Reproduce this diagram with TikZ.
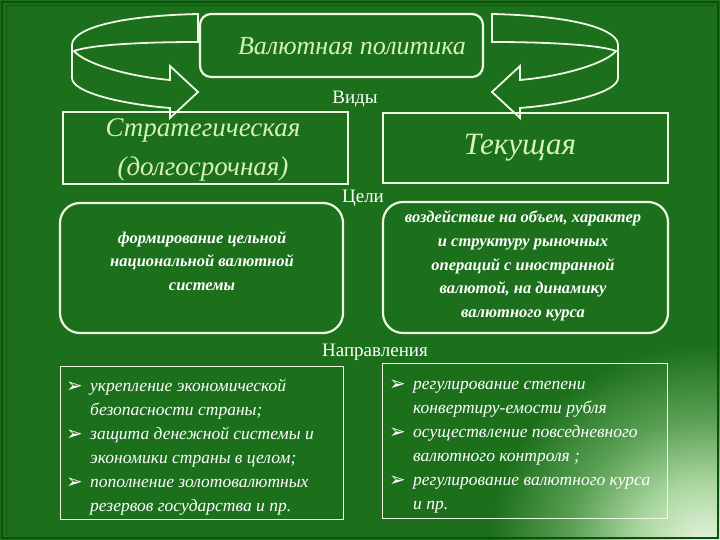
\documentclass[tikz,border=0pt]{standalone}
\usepackage{fontspec}
\setmainfont{Liberation Serif}
\newfontfamily\dejavu{DejaVu Sans}
\definecolor{bg}{RGB}{28,112,28}
\definecolor{bgdark}{RGB}{14,80,14}
\definecolor{glowA}{RGB}{232,244,224}
\definecolor{glowB}{RGB}{168,214,158}
\definecolor{glowC}{RGB}{88,158,82}
\definecolor{titlegreen}{RGB}{214,244,176}
\definecolor{linecol}{RGB}{238,248,226}
\pgfdeclareradialshading{glowshade}{\pgfpoint{0bp}{0bp}}{color(0bp)=(glowA); color(8bp)=(glowB); color(16bp)=(glowC); color(25bp)=(bg); color(50bp)=(bg)}
\tikzset{
  boxline/.style={draw=linecol, line width=2.2pt},
  thinline/.style={draw=linecol, line width=1pt},
  ribbon/.style={draw=linecol, line width=1.8pt, line join=miter},
  titletext/.style={font=\itshape\fontsize{26}{30}\selectfont, text=titlegreen, align=center},
  typetext/.style={font=\itshape\fontsize{27}{39}\selectfont, text=titlegreen, align=center},
  lbl/.style={font=\fontsize{19}{21}\selectfont, text=white, inner sep=0pt},
  goaltext/.style={font=\bfseries\itshape\fontsize{16.5}{23.8}\selectfont, text=white, align=center},
  listtext/.style={font=\itshape\fontsize{17.5}{24}\selectfont, text=white, inner sep=0pt, anchor=north west},
}
\newcommand{\blt}{\raisebox{-1pt}{\dejavu\fontsize{20}{20}\selectfont ➢}}
\begin{document}
\begin{tikzpicture}[x=1pt,y=-1pt]
\useasboundingbox (0,0) rectangle (720,540);
% background
\fill[bg] (0,0) rectangle (720,540);
\begin{scope}
\clip (0,0) rectangle (720,540);
\shade[shading=glowshade] (705,545) ellipse [x radius=215, y radius=200];
\end{scope}
\draw[bgdark, line width=1.2pt] (2,2) rectangle (718,538);
\draw[bgdark!70!bg, line width=1pt] (6,6) -- (6,534);
\draw[bgdark!70!bg, line width=1pt] (6,6) -- (714,6);
% ribbon arrows
\draw[ribbon] (198,14) .. controls (112,16) and (72,30) .. (72,45) -- (72,78)
  .. controls (72,92) and (120,104) .. (170,108) -- (170,118) -- (198,92) -- (170,66) -- (170,80)
  .. controls (125,76) and (84,63) .. (74,51)
  .. controls (90,45) and (140,42) .. (198,42) -- cycle;
\begin{scope}[xshift=690pt, xscale=-1]
\draw[ribbon] (198,14) .. controls (112,16) and (72,30) .. (72,45) -- (72,78)
  .. controls (72,92) and (120,104) .. (170,108) -- (170,118) -- (198,92) -- (170,66) -- (170,80)
  .. controls (125,76) and (84,63) .. (74,51)
  .. controls (90,45) and (140,42) .. (198,42) -- cycle;
\end{scope}
% top box
\node[boxline, rounded corners=11pt, minimum width=283pt, minimum height=63pt] (policy) at (341.5,45.5) {};
\node[titletext] (policyT) at (352,46) {Валютная политика};
\node[lbl] (vidy) at (355,99) {Виды};
% types
\node[boxline, minimum width=285pt, minimum height=72pt] (strat) at (205.5,148) {};
\node[typetext] (stratT) at (203,150) {Стратегическая\\(долгосрочная)};
\node[boxline, minimum width=285pt, minimum height=70pt] (cur) at (525.5,148) {};
\node[typetext, font=\itshape\fontsize{31}{39}\selectfont] (curT) at (520,148) {Текущая};
% goals
\node[lbl] (celi) at (363,198) {Цели};
\node[boxline, rounded corners=20pt, minimum width=283pt, minimum height=130pt] (goalL) at (201.5,268) {};
\node[goaltext] (goalLT) at (202,261) {формирование цельной\\национальной валютной\\системы};
\node[boxline, rounded corners=20pt, minimum width=285pt, minimum height=131pt] (goalR) at (525.5,267.5) {};
\node[goaltext] (goalRT) at (523,266) {воздействие на объем, характер\\и структуру рыночных\\операций с иностранной\\валютой, на динамику\\валютного курса};
% directions
\node[lbl] (napr) at (375,352) {Направления};
\node[thinline, minimum width=283pt, minimum height=153pt] (dirL) at (201.5,442.5) {};
\node[thinline, minimum width=285pt, minimum height=155pt] (dirR) at (524.5,440.5) {};
\node[listtext] (dirLT) at (66,374) {%
\begin{tabular}{@{}p{24pt}@{}l@{}}
\blt & укрепление экономической\\
 & безопасности страны;\\
\blt & защита денежной системы и\\
 & экономики страны в целом;\\
\blt & пополнение золотовалютных\\
 & резервов государства и пр.
\end{tabular}};
\node[listtext] (dirRT) at (389,372) {%
\begin{tabular}{@{}p{24pt}@{}l@{}}
\blt & регулирование степени\\
 & конвертиру-емости рубля\\
\blt & осуществление повседневного\\
 & валютного контроля ;\\
\blt & регулирование валютного курса\\
 & и пр.
\end{tabular}};
\end{tikzpicture}
\end{document}
